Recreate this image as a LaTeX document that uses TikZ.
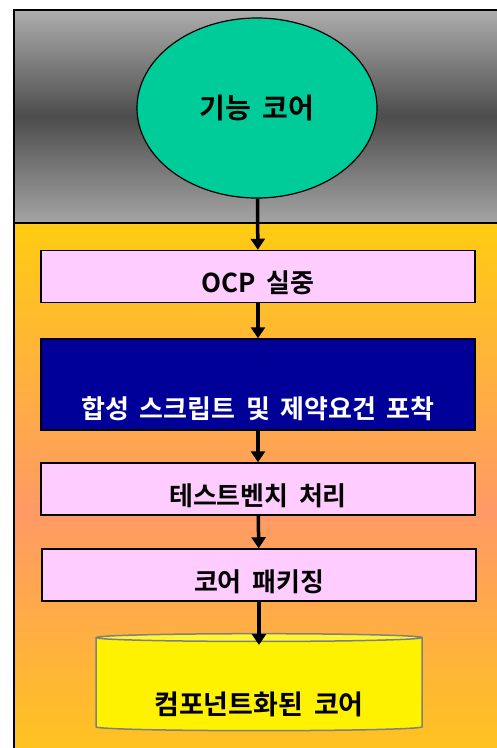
\documentclass[tikz,border=0pt]{standalone}
\usepackage{fontspec}
\setmainfont{Noto Sans CJK KR}[BoldFont={Noto Sans CJK KR Bold}]
\usetikzlibrary{graphs,arrows.meta,shapes.geometric}
\definecolor{coregreen}{HTML}{00CC99}
\definecolor{stagepink}{HTML}{FFCCFF}
\definecolor{stageblue}{HTML}{000099}
\definecolor{bandgray}{HTML}{ADADAD}
\definecolor{bandorange}{HTML}{FF9966}
\definecolor{bandyellow}{HTML}{FFCC11}
\newcommand{\gap}{\hspace{0.4em}}
\tikzset{
    corenode/.style={
        ellipse,
        draw,
        line width=1.2pt,
        fill=coregreen,
        minimum width=240pt,
        minimum height=180pt,
        inner sep=0,
        font=\bfseries\fontsize{28}{28}\selectfont,
    },
    stage/.style={
        draw,
        line width=1.5pt,
        fill=stagepink,
        minimum width=434pt,
        minimum height=52pt,
        inner sep=0,
        text height=36pt,
        text depth=4pt,
        font=\bfseries\fontsize{26}{26}\selectfont,
    },
    keystage/.style={
        stage,
        fill=stageblue,
        text=white,
        minimum height=91pt,
        text height=72pt,
    },
    dbnode/.style={
        cylinder,
        shape border rotate=90,
        aspect=0.037,
        draw=gray,
        line width=1.5pt,
        cylinder uses custom fill,
        cylinder body fill=yellow,
        cylinder end fill=yellow!80!white,
        minimum width=326pt,
        minimum height=97pt,
        inner sep=0,
        text height=64pt,
        text depth=4pt,
        font=\bfseries\fontsize{27}{27}\selectfont,
    },
    flow/.style={
        line width=3.5pt,
        -{Triangle[width=14pt,length=11pt]},
    },
}
\begin{document}
\begin{tikzpicture}[x=1pt,y=-1pt]
    \useasboundingbox (0,0) rectangle (497,748);
    \clip (0,0) rectangle (497,748);
    % background bands
    \shade[top color=bandgray,bottom color=bandgray!95!black,middle color=black!70]
        (14,10) rectangle (520,223);
    \shade[top color=bandyellow,bottom color=bandyellow,middle color=bandorange]
        (14,223) rectangle (520,800);
    \draw[line width=1.5pt] (520,10) -- (14,10) -- (14,800);
    \draw[line width=1.5pt] (14,223) -- (520,223);

    \node[corenode] (core) at (257,108) {기능\gap 코어};
    \node[stage] (ocp) at (258,276.5) {OCP\gap 실중};
    \node[keystage] (synth) at (258,384.5) {합성\gap 스크립트\gap 및\gap 제약요건\gap 포착};
    \node[stage] (bench) at (258,489) {테스트벤치\gap 처리};
    \node[stage] (pack) at (259,575) {코어\gap 패키징};
    \node[dbnode] (db) at (259,684.5) {컴포넌트화된\gap 코어};
    \coordinate (dbtop) at ([yshift=-12pt]db.top);

    \graph[use existing nodes, edges={flow}]{
        core -> ocp -> synth -> bench -> pack -> dbtop;
    } ;
\end{tikzpicture}
\end{document}
